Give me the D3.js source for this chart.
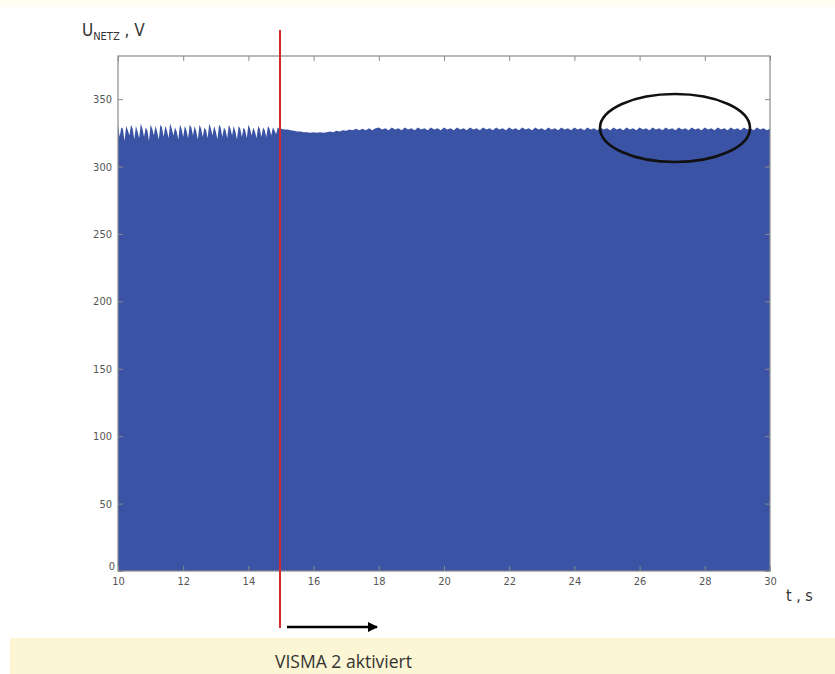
<!DOCTYPE html>
<html><head><meta charset="utf-8">
<script src="https://cdn.jsdelivr.net/npm/d3@7"></script>
<style>body{margin:0;background:#fff}svg{display:block}</style>
</head><body>
<script>
// ---- data ----
const xTicks = [10,12,14,16,18,20,22,24,26,28,30];
const yTicks = [0,50,100,150,200,250,300,350];
const xDomain = [10,30];
const yDomain = [0,382];
// envelope of U_NETZ before activation (10 s .. 15 s, sample step 0.05 s)
const segAStart = 10, segAStep = 0.05;
const segAValues = [
331,322,329,328,319,330,327,323,331,328,
320,330,326,321,332,328,322,329,327,319,
331,328,323,330,326,320,331,329,322,330,
327,321,332,328,323,329,326,320,331,328,
322,330,327,321,331,329,323,330,326,320,
331,328,322,329,327,321,332,328,323,330,
326,320,331,329,322,329,327,321,331,328,
323,330,326,320,330,328,322,329,327,321,
331,328,323,329,326,321,330,328,322,329,
327,322,330,328,323,329,327,324,329,328,
328];
// envelope after VISMA 2 activation (15 s .. 30 s, sample step 0.1 s)
const segBStart = 15, segBStep = 0.1;
const segBValues = [
328,327.5,327.5,327,326.5,326,326,325.5,325.5,325,
325.5,325,325.5,325,325.5,326,325.5,326.5,326,327,
326.5,327.5,327,328,327,328,327,328.5,327,328.5,
329,327.5,328.5,327,329,327.5,328.5,327,329,327.5,
328.5,327,329,327.5,328.5,327,329,327.5,328.5,327,
329,327.5,328.5,327,329,327.5,328.5,327,329,327.5,
328.5,327,329,327.5,328.5,327,329,327.5,328.5,327,
329,327.5,328.5,327,329,327.5,328.5,327,329,327.5,
328.5,327,329,327.5,328.5,327,329,327.5,328.5,327,
329,327.5,328.5,327,329,327.5,328.5,327,329,327.5,
328.5,327,329,327.5,328.5,327,329,327.5,328.5,327,
329,327.5,328.5,327,329,327.5,328.5,327,329,327.5,
328.5,327,329,327.5,328.5,327,329,327.5,328.5,327,
329,327.5,328.5,327,329,327.5,328.5,327,329,327.5,
328.5,327,329,327.5,328.5,327,329,327.5,328.5,327,
328];
const markerTime = 15;
const annotation = "VISMA 2 aktiviert";

// ---- layout ----
const W = 835, H = 674;
const m = {left:118, right:770, top:56, bottom:571};
const svg = d3.select("body").append("svg").attr("width",W).attr("height",H);

svg.append("rect").attr("x",0).attr("y",0).attr("width",W).attr("height",7).attr("fill","#fdfdf2");
svg.append("rect").attr("x",10).attr("y",638).attr("width",W-10).attr("height",H-638).attr("fill","#fcf6d4");

const x = d3.scaleLinear().domain(xDomain).range([m.left,m.right]);
const y = d3.scaleLinear().domain(yDomain).range([m.bottom,m.top]);

const pts = segAValues.map((v,i)=>({t:segAStart+i*segAStep, v}))
  .concat(segBValues.map((v,i)=>({t:segBStart+i*segBStep, v})).slice(1));

svg.append("path").datum(pts)
  .attr("fill","#3a53a5")
  .attr("d", d3.area().x(d=>x(d.t)).y0(y(0)).y1(d=>y(d.v)));

const tickFont = "'Liberation Sans Narrow','DejaVu Sans Condensed',sans-serif";
// axes (MATLAB style, inner ticks)
const gx = svg.append("g").attr("transform",`translate(0,${m.bottom})`)
  .call(d3.axisBottom(x).tickValues(xTicks).tickSize(-5).tickPadding(8).tickFormat(d3.format("d")));
const gxt = svg.append("g").attr("transform",`translate(0,${m.top})`)
  .call(d3.axisTop(x).tickValues(xTicks).tickSize(-5).tickFormat(""));
const gy = svg.append("g").attr("transform",`translate(${m.left},0)`)
  .call(d3.axisLeft(y).tickValues(yTicks).tickSize(-5).tickPadding(6).tickFormat(d3.format("d")));
const gyr = svg.append("g").attr("transform",`translate(${m.right},0)`)
  .call(d3.axisRight(y).tickValues(yTicks).tickSize(-5).tickFormat(""));
[gx,gxt,gy,gyr].forEach(g=>{
  g.select(".domain").remove();
  g.selectAll(".tick line").attr("stroke","#8a8a8a");
  g.selectAll("text").attr("fill","#555").style("font-family",tickFont).style("font-size","11px");
});
gy.selectAll(".tick text").attr("dy","0.32em");
gy.selectAll(".tick").filter(d=>d===0).select("text").attr("dy","-0.1em").attr("x",-3);
gx.selectAll(".tick text").attr("dy","0.5em");

svg.append("rect").attr("x",m.left).attr("y",m.top).attr("width",m.right-m.left).attr("height",m.bottom-m.top)
  .attr("fill","none").attr("stroke","#8a8a8a").attr("stroke-width",1.2);

// axis titles
const yl = svg.append("text").attr("x",82).attr("y",36).attr("fill","#333")
  .style("font-family","'Liberation Sans Narrow','DejaVu Sans Condensed',sans-serif").style("font-size","17px");
yl.append("tspan").text("U");
yl.append("tspan").attr("dy",4).style("font-size","11px").text("NETZ");
yl.append("tspan").attr("dy",-4).text(" , V");
svg.append("text").attr("x",786).attr("y",601).attr("fill","#333")
  .style("font-family","'Liberation Sans Narrow','DejaVu Sans Condensed',sans-serif").style("font-size","16px")
  .text("t , s");

// ellipse highlight
svg.append("ellipse").attr("cx",675).attr("cy",128).attr("rx",75).attr("ry",34)
  .attr("fill","none").attr("stroke","#111").attr("stroke-width",2.6);

// activation marker
svg.append("line").attr("x1",x(markerTime)-1).attr("x2",x(markerTime)-1).attr("y1",30).attr("y2",628)
  .attr("stroke","#d42a2e").attr("stroke-width",2);

svg.append("defs").append("marker").attr("id","ah").attr("viewBox","0 0 10 10").attr("refX",9).attr("refY",5)
  .attr("markerWidth",4).attr("markerHeight",4).attr("orient","auto")
  .append("path").attr("d","M0,0L10,5L0,10z").attr("fill","#000");
svg.append("line").attr("x1",x(markerTime)+6).attr("x2",x(markerTime)+96).attr("y1",627).attr("y2",627)
  .attr("stroke","#000").attr("stroke-width",2.6).attr("marker-end","url(#ah)");

svg.append("text").attr("x",275).attr("y",668).attr("fill","#333")
  .attr("textLength",137).attr("lengthAdjust","spacingAndGlyphs")
  .style("font-family","'Open Sans',sans-serif").style("font-size","19px").text(annotation);
</script>
</body></html>
